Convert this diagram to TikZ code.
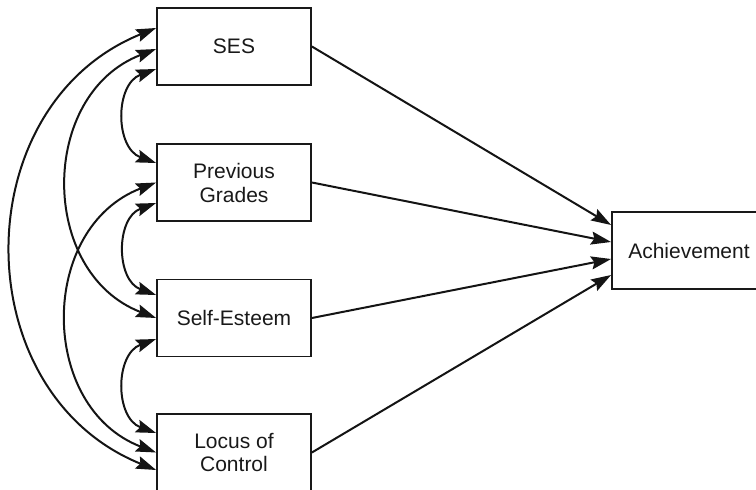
\documentclass[tikz,border=0pt]{standalone}
\usepackage{fontspec}
\setmainfont{Liberation Sans}
\usetikzlibrary{arrows.meta}
\begin{document}
\begin{tikzpicture}[x=1pt,y=1pt,
  tip/.tip={Stealth[length=20pt,width=13pt,inset=3pt]},
  varbox/.style={draw=black!90, line width=1.8pt, minimum width=154pt, minimum height=77pt,
    inner sep=0pt, align=center, font=\fontsize{21}{24}\selectfont, text=black!90},
  path/.style={line width=2pt, draw=black!92, -tip},
  cov/.style={line width=2pt, draw=black!92, tip-tip}
]
\useasboundingbox (0,0) rectangle (756,-490);

% predictors and outcome
\node[varbox] (ses) at (234,-46.5) {SES};
\node[varbox] (pg)  at (234,-182.5) {Previous\\Grades};
\node[varbox] (se)  at (234,-318) {Self-Esteem};
\node[varbox] (loc) at (234,-452.5) {Locus of\\Control};
\node[varbox] (ach) at (689,-250.5) {Achievement};

% direct paths to achievement
\draw[path] (ses.east) -- ([yshift=25.5pt]ach.west);
\draw[path] (pg.east)  -- ([yshift=8.5pt]ach.west);
\draw[path] (se.east)  -- ([yshift=-8.5pt]ach.west);
\draw[path] (loc.east) -- ([yshift=-24.5pt]ach.west);

% correlations among predictors
\draw[cov] ([yshift=18.5pt]ses.west) to[bend right=68, looseness=1.2] ([yshift=-17.5pt]loc.west);
\draw[cov] ([yshift=-2.5pt]ses.west) to[bend right=69, looseness=1.2] (se.west);
\draw[cov] (pg.west) to[bend right=69, looseness=1.2] (loc.west);
\draw[cov] ([yshift=-22.5pt]ses.west) to[bend right=70, looseness=1.2] ([yshift=19.5pt]pg.west);
\draw[cov] ([yshift=-20.5pt]pg.west) to[bend right=70, looseness=1.2] ([yshift=23pt]se.west);
\draw[cov] ([yshift=-21pt]se.west) to[bend right=70, looseness=1.2] ([yshift=19.5pt]loc.west);
\end{tikzpicture}
\end{document}
